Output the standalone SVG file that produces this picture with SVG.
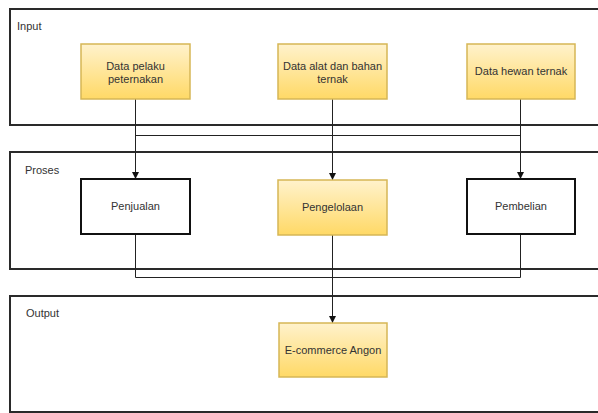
<svg xmlns="http://www.w3.org/2000/svg" width="598" height="413" viewBox="0 0 598 413">
<defs>
<linearGradient id="yel" x1="0" y1="0" x2="0" y2="1">
<stop offset="0" stop-color="#fff2cc"/>
<stop offset="1" stop-color="#ffd966"/>
</linearGradient>
<marker id="arr" viewBox="0 0 10 10" refX="10" refY="5" markerWidth="7" markerHeight="7" markerUnits="userSpaceOnUse" orient="auto">
<path d="M0,0 L10,5 L0,10 z" fill="#111"/>
</marker>
<style>
.cont{fill:#fff;stroke:#2a2a2a;stroke-width:2}
.yel{fill:url(#yel);stroke:#d6b656;stroke-width:1.5}
.wht{fill:#fff;stroke:#111;stroke-width:2}
text{font-family:"Liberation Sans",Arial,sans-serif;font-size:11px;fill:#333}
.c{text-anchor:middle}
.ln{fill:none;stroke:#222;stroke-width:1}
</style>
</defs>
<rect width="598" height="413" fill="#fff"/>
<g id="input-container">
<rect class="cont" x="10" y="9" width="592" height="116"/>
<text x="17" y="30">Input</text>
</g>
<g id="proses-container">
<rect class="cont" x="10" y="152" width="592" height="117"/>
<text x="25" y="174">Proses</text>
</g>
<g id="output-container">
<rect class="cont" x="10" y="296" width="592" height="116"/>
<text x="26" y="317">Output</text>
</g>
<g id="connectors">
<path class="ln" d="M135.5,99 V179" marker-end="url(#arr)"/>
<path class="ln" d="M332.5,99 V180" marker-end="url(#arr)"/>
<path class="ln" d="M520.5,99 V179" marker-end="url(#arr)"/>
<path class="ln" d="M135.5,135.5 H520.5"/>
<path class="ln" d="M135.5,234 V277.5 H520.5 V234"/>
<path class="ln" d="M332.5,235 V323" marker-end="url(#arr)"/>
</g>
<g id="n-pelaku">
<rect class="yel" x="81" y="44" width="109" height="55"/>
<text class="c" x="135.5" y="70">Data pelaku</text>
<text class="c" x="135.5" y="83">peternakan</text>
</g>
<g id="n-alat">
<rect class="yel" x="278" y="44" width="109" height="55"/>
<text class="c" x="332.5" y="70">Data alat dan bahan</text>
<text class="c" x="332.5" y="83">ternak</text>
</g>
<g id="n-hewan">
<rect class="yel" x="467" y="44" width="108" height="55"/>
<text class="c" x="521" y="75">Data hewan ternak</text>
</g>
<g id="n-penjualan">
<rect class="wht" x="81" y="179" width="109" height="55"/>
<text class="c" x="135.5" y="210">Penjualan</text>
</g>
<g id="n-pengelolaan">
<rect class="yel" x="278" y="180" width="109" height="55"/>
<text class="c" x="332.5" y="211">Pengelolaan</text>
</g>
<g id="n-pembelian">
<rect class="wht" x="467" y="179" width="108" height="55"/>
<text class="c" x="521" y="210">Pembelian</text>
</g>
<g id="n-ecommerce">
<rect class="yel" x="279" y="323" width="108" height="54"/>
<text class="c" x="333" y="354">E-commerce Angon</text>
</g>
</svg>
